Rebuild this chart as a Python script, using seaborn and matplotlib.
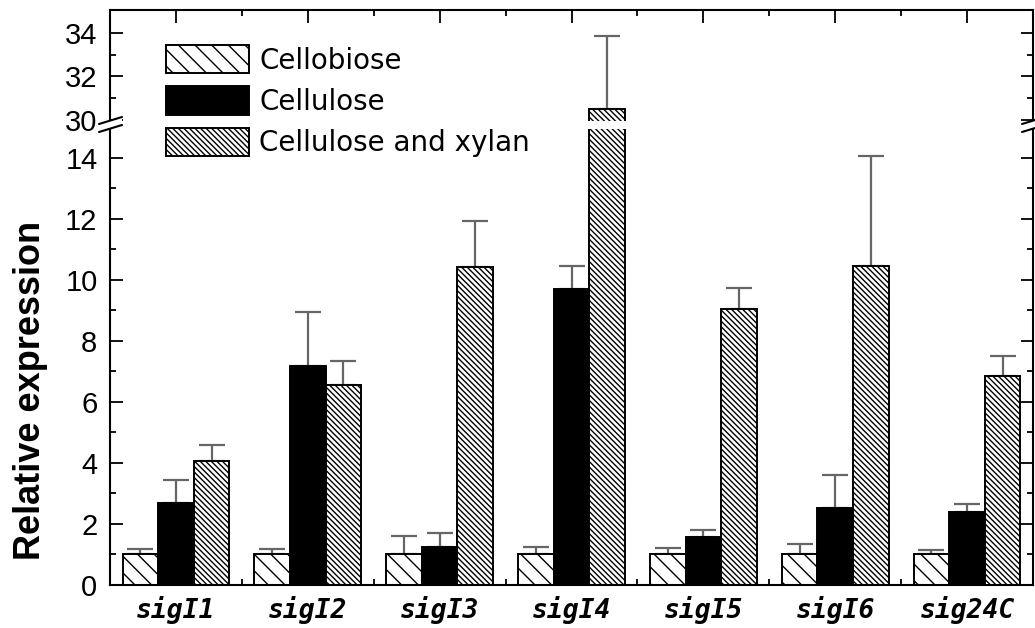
import numpy as np
import pandas as pd
import seaborn as sns
import matplotlib
matplotlib.use("Agg")
import matplotlib.pyplot as plt
from matplotlib.patches import Patch, Polygon
from matplotlib.lines import Line2D

# ---- data ----
genes = ["sigI1", "sigI2", "sigI3", "sigI4", "sigI5", "sigI6", "sig24C"]
conditions = ["Cellobiose", "Cellulose", "Cellulose and xylan"]

cellobiose = [1.0, 1.0, 1.0, 1.0, 1.0, 1.0, 1.0]
cellobiose_err = [0.18, 0.18, 0.61, 0.25, 0.22, 0.33, 0.14]
cellulose = [2.70, 7.19, 1.25, 9.70, 1.58, 2.51, 2.40]
cellulose_err = [0.73, 1.77, 0.47, 0.76, 0.22, 1.08, 0.24]
xylan = [4.06, 6.57, 10.43, 30.5, 9.06, 10.46, 6.86]
xylan_err = [0.52, 0.76, 1.50, 3.37, 0.69, 3.59, 0.66]

values = [cellobiose, cellulose, xylan]
errors = [cellobiose_err, cellulose_err, xylan_err]

df = pd.DataFrame({
    "gene": np.tile(genes, len(conditions)),
    "condition": np.repeat(conditions, len(genes)),
    "value": np.concatenate(values),
})

# ---- style ----
sns.set_style("ticks")
plt.rcParams["font.family"] = ["DejaVu Sans"]
plt.rcParams["text.color"] = "black"
plt.rcParams["xtick.color"] = "black"
plt.rcParams["ytick.color"] = "black"
plt.rcParams["axes.labelcolor"] = "black"
plt.rcParams["hatch.linewidth"] = 1.0
plt.rcParams["hatch.color"] = "black"

W, H = 1035, 628
fig = plt.figure(figsize=(W / 100, H / 100), dpi=100)


def fx(px):
    return px / W


def fy(py):
    return (H - py) / H


left, right = 110, 1033
ax_lo = fig.add_axes([fx(left), fy(585), fx(right - left), fy(128.6) - fy(585)])
ax_hi = fig.add_axes([fx(left), fy(120.6), fx(right - left), fy(10) - fy(120.6)],
                     sharex=ax_lo)

faces = ["white", "black", "white"]
hatches = ["\\\\", None, "\\\\\\\\\\\\"]
palette = dict(zip(conditions, faces))

for ax in (ax_lo, ax_hi):
    sns.barplot(data=df, x="gene", y="value", hue="condition", order=genes,
                hue_order=conditions, palette=palette, errorbar=None,
                width=0.81, gap=0, legend=False, ax=ax)
    bar_groups = list(ax.containers)[:len(conditions)]
    for ci, cont in enumerate(bar_groups):
        xs = []
        for bar in cont:
            bar.set_edgecolor("black")
            bar.set_linewidth(1.4)
            bar.set_facecolor(faces[ci])
            if hatches[ci]:
                bar.set_hatch(hatches[ci])
            xs.append(bar.get_x() + bar.get_width() / 2)
        ax.errorbar(xs, values[ci], yerr=[np.zeros(len(xs)), errors[ci]],
                    fmt="none", ecolor="#666666", elinewidth=1.6,
                    capsize=9.5, capthick=1.6, zorder=0.5)
    ax.set_xlim(-0.5, len(genes) - 0.5)
    ax.set_xlabel("")
    ax.set_ylabel("")
    for s in ax.spines.values():
        s.set_linewidth(1.5)
        s.set_color("black")
        s.set_visible(True)

# lower panel
ax_lo.set_ylim(0, 14.96)
ax_lo.set_yticks(np.arange(0, 15, 2))
ax_lo.set_yticks(np.arange(1, 15, 2), minor=True)
ax_lo.set_xticks(np.arange(len(genes)))
ax_lo.set_xticks(np.arange(len(genes) - 1) + 0.5, minor=True)
ax_lo.spines["top"].set_visible(False)
ax_lo.tick_params(axis="both", which="both", direction="in",
                  left=True, right=True, top=False, bottom=True, width=1.3)
ax_lo.tick_params(axis="both", which="major", length=9)
ax_lo.tick_params(axis="both", which="minor", length=4.5)
ax_lo.tick_params(axis="y", labelsize=21, pad=9)
ax_lo.tick_params(axis="x", which="major", pad=8)
ax_lo.set_xticklabels(genes, fontsize=19, fontstyle="italic",
                      fontweight="bold", family="DejaVu Sans Mono")
for lab in ax_lo.get_yticklabels():
    lab.set_fontfamily("Liberation Sans")

# upper panel
ax_hi.set_ylim(29.95, 35.09)
ax_hi.set_yticks([30, 32, 34])
ax_hi.set_yticks([31, 33], minor=True)
ax_hi.spines["bottom"].set_visible(False)
ax_hi.tick_params(axis="both", which="both", direction="in",
                  left=True, right=True, top=True, bottom=False,
                  labelbottom=False, width=1.3)
ax_hi.tick_params(axis="both", which="major", length=9)
ax_hi.tick_params(axis="both", which="minor", length=4.5)
ax_hi.tick_params(axis="y", labelsize=21, pad=9)
for lab in ax_hi.get_yticklabels():
    lab.set_fontfamily("Liberation Sans")

fig.text(fx(31), fy(390), "Relative expression", rotation=90,
         ha="center", va="center", fontsize=26, fontweight="bold",
         family="Liberation Sans")

# axis-break marks on both vertical spines
for xs in (left, right):
    gap = Polygon([(fx(xs - 11), fy(124)), (fx(xs + 12), fy(117)),
                   (fx(xs + 12), fy(125)), (fx(xs - 11), fy(132))],
                  closed=True, transform=fig.transFigure, facecolor="white",
                  edgecolor="none", zorder=5)
    fig.add_artist(gap)
    fig.add_artist(Line2D([fx(xs), fx(xs)], [fy(120.6), fy(128.6)],
                          transform=fig.transFigure, color="black", lw=1.5,
                          zorder=4))
    for y0 in (124, 132):
        fig.add_artist(Line2D([fx(xs - 11), fx(xs + 12)],
                              [fy(y0), fy(y0 - 7)],
                              transform=fig.transFigure, color="black",
                              lw=1.5, zorder=6))

# legend
handles = [Patch(facecolor=faces[i], edgecolor="black", linewidth=1.4,
                 hatch=hatches[i]) for i in range(3)]
fig.legend(handles, conditions, loc="upper left",
           bbox_to_anchor=(fx(166), fy(45)), frameon=False, fontsize=20,
           handlelength=2.99, handleheight=1.19, handletextpad=0.36,
           labelspacing=0.43, borderpad=0, borderaxespad=0)

fig.savefig("out.png", dpi=100)
